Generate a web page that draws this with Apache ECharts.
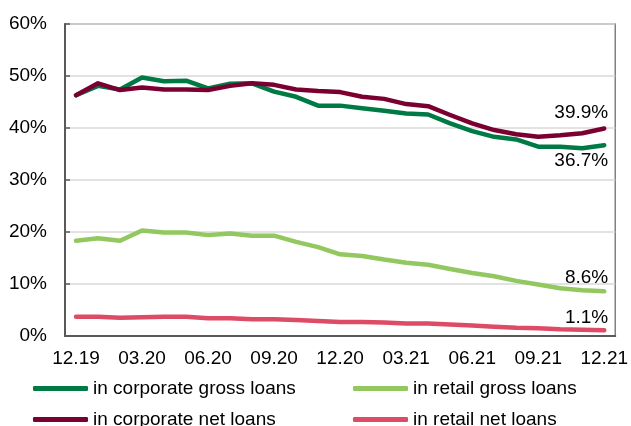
<!DOCTYPE html>
<html>
<head>
<meta charset="utf-8">
<script src="https://cdn.jsdelivr.net/npm/echarts@6/dist/echarts.min.js"></script>
<style>
html,body{margin:0;padding:0;background:#fff;}
#c{width:631px;height:426px;}
</style>
</head>
<body>
<div id="c"></div>
<script>
const months = ['12.19','01.20','02.20','03.20','04.20','05.20','06.20','07.20','08.20','09.20','10.20','11.20','12.20','01.21','02.21','03.21','04.21','05.21','06.21','07.21','08.21','09.21','10.21','11.21','12.21'];
const corporateGross = [46.3,48.1,47.4,49.7,49.0,49.1,47.6,48.5,48.6,47.0,46.0,44.3,44.3,43.8,43.3,42.8,42.6,40.9,39.4,38.3,37.8,36.4,36.4,36.1,36.7];
const corporateNet   = [46.3,48.6,47.3,47.8,47.4,47.4,47.3,48.1,48.6,48.3,47.4,47.1,46.9,46.0,45.6,44.6,44.2,42.5,40.9,39.6,38.8,38.3,38.6,39.0,39.9];
const retailGross    = [18.3,18.8,18.3,20.3,19.9,19.9,19.4,19.7,19.3,19.3,18.1,17.1,15.7,15.4,14.7,14.1,13.7,12.9,12.1,11.5,10.6,9.9,9.2,8.8,8.6];
const retailNet      = [3.7,3.7,3.5,3.6,3.7,3.7,3.4,3.4,3.2,3.2,3.1,2.9,2.7,2.7,2.6,2.4,2.4,2.2,2.0,1.8,1.6,1.5,1.3,1.2,1.1];
const seriesNames = ['in corporate gross loans','in retail gross loans','in corporate net loans','in retail net loans'];
const colors = ['#007a45','#92c85f','#7b0032','#de4b66'];

const FONT = 'Liberation Sans, Arial, sans-serif';
const FS = 19;

function withEndLabel(arr, pos, off) {
  return arr.map((v, i) => i === arr.length - 1
    ? { value: v, label: { show: true, position: pos, distance: 0, offset: off, align: 'right', formatter: v.toFixed(1) + '%', color: '#000', fontFamily: FONT, fontSize: FS } }
    : v);
}

function lineSeries(name, color, data, z) {
  return {
    name: name, type: 'line', data: data, z: z,
    symbol: 'circle', symbolSize: 0.1, showSymbol: true, showAllSymbol: true,
    color: color,
    itemStyle: { color: color },
    lineStyle: { color: color, width: 4.5, cap: 'round', join: 'round' },
    label: { show: false },
    emphasis: { disabled: true }
  };
}

function legendItem(name, left, top) {
  return { data: [name], left: left, top: top, itemWidth: 55, itemHeight: 5, icon: 'roundRect', itemStyle: { borderWidth: 0 },
    textStyle: { fontFamily: FONT, fontSize: FS, color: '#000' } };
}

const chart = echarts.init(document.getElementById('c'));
chart.setOption({
  animation: false,
  color: colors,
  grid: { left: 65, right: 15, top: 24, bottom: 90, show: true, borderColor: '#808080', borderWidth: 1.5 },
  legend: [
    legendItem(seriesNames[0], 28, 374),
    legendItem(seriesNames[1], 348, 374),
    legendItem(seriesNames[2], 28, 405),
    legendItem(seriesNames[3], 348, 405)
  ],
  xAxis: {
    type: 'category', data: months, boundaryGap: true,
    axisLine: { lineStyle: { color: '#595959', width: 2 } },
    axisTick: { inside: true, length: 5, interval: 2, alignWithLabel: false, lineStyle: { color: '#595959', width: 1.5 } },
    axisLabel: { interval: 2, color: '#000', fontFamily: FONT, fontSize: FS, margin: 13 },
    splitLine: { show: false }
  },
  yAxis: {
    type: 'value', min: 0, max: 60, interval: 10,
    axisLine: { show: true, lineStyle: { color: '#595959', width: 2 } },
    axisTick: { show: true, inside: true, length: 5, lineStyle: { color: '#595959', width: 1.5 } },
    axisLabel: { formatter: '{value}%', color: '#000', fontFamily: FONT, fontSize: FS, margin: 18 },
    splitLine: { lineStyle: { color: '#d9d9d9', width: 1.5 } }
  },
  series: [
    lineSeries(seriesNames[1], colors[1], withEndLabel(retailGross, 'top', [4, -4]), 2),
    lineSeries(seriesNames[3], colors[3], withEndLabel(retailNet, 'top', [4, -3]), 2),
    lineSeries(seriesNames[0], colors[0], withEndLabel(corporateGross, 'bottom', [4, 6]), 3),
    lineSeries(seriesNames[2], colors[2], withEndLabel(corporateNet, 'top', [4, -6]), 4)
  ]
});
</script>
</body>
</html>
